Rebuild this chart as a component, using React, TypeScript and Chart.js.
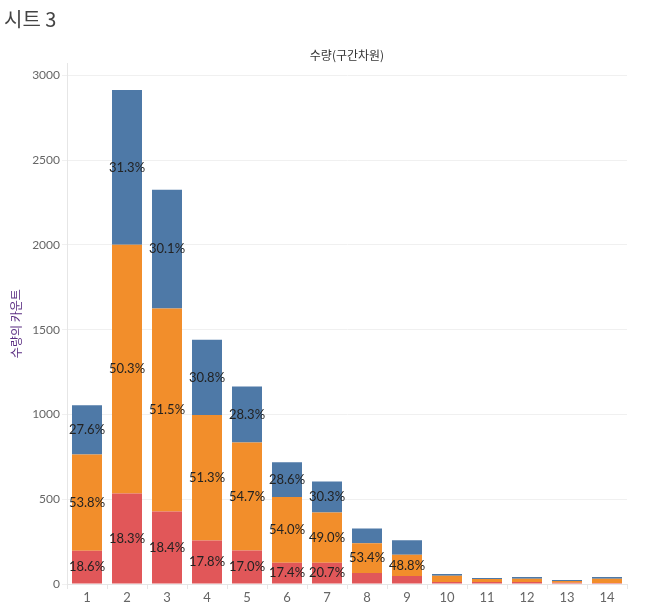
import { useEffect, useRef } from 'react';
import { Chart, registerables } from 'chart.js';

Chart.register(...registerables);

// bins of 수량 (x axis)
const categories = ['1', '2', '3', '4', '5', '6', '7', '8', '9', '10', '11', '12', '13', '14'];
// stacked counts, bottom to top
const redCounts = [196, 534, 428, 257, 198, 125, 125, 65, 47, 12, 12, 12, 8, 6];
const orangeCounts = [567, 1466, 1197, 739, 637, 388, 296, 175, 126, 37, 17, 19, 10, 25];
const blueCounts = [291, 913, 700, 444, 330, 205, 183, 88, 85, 10, 6, 10, 6, 10];
const yTicks = [0, 500, 1000, 1500, 2000, 2500, 3000];

const FONT = 'Lato, "Noto Sans CJK KR", sans-serif';
const KR_FONT = '"Noto Sans CJK KR", sans-serif';

const pctLabels = {
  id: 'pctLabels',
  afterDatasetsDraw(chart: Chart) {
    const ctx = chart.ctx;
    const sets = chart.data.datasets;
    ctx.save();
    ctx.font = `13px ${FONT}`;
    ctx.fillStyle = '#222';
    ctx.textAlign = 'center';
    ctx.textBaseline = 'middle';
    sets.forEach((ds, di) => {
      const meta = chart.getDatasetMeta(di);
      meta.data.forEach((el: any, i) => {
        const total = sets.reduce((s, d) => s + (d.data[i] as number), 0);
        const v = ds.data[i] as number;
        const h = Math.abs(el.base - el.y);
        if (h < 18) return;
        ctx.fillText(((v / total) * 100).toFixed(1) + '%', el.x, (el.y + el.base) / 2);
      });
    });
    ctx.restore();
  },
};

export default function App() {
  const canvasRef = useRef<HTMLCanvasElement>(null);
  const chartRef = useRef<Chart | null>(null);

  useEffect(() => {
    if (!canvasRef.current) return;
    chartRef.current?.destroy();
    chartRef.current = new Chart(canvasRef.current, {
      type: 'bar',
      data: {
        labels: categories,
        datasets: [
          { label: 'red', data: redCounts, backgroundColor: '#e15759' },
          { label: 'orange', data: orangeCounts, backgroundColor: '#f28e2b' },
          { label: 'blue', data: blueCounts, backgroundColor: '#4e79a7' },
        ],
      },
      options: {
        responsive: true,
        maintainAspectRatio: false,
        animation: false,
        datasets: { bar: { categoryPercentage: 1, barPercentage: 0.75 } },
        layout: { padding: { top: 48, right: 20, left: 0, bottom: 0 } },
        plugins: {
          legend: { display: false },
          tooltip: { enabled: false },
          title: {
            display: true,
            text: '수량(구간차원)',
            fullSize: false,
            color: '#333',
            font: { family: KR_FONT, size: 12, weight: 'normal', lineHeight: 1.2 },
            padding: { top: 0, bottom: 1 },
          },
        },
        scales: {
          x: {
            stacked: true,
            grid: {
              offset: true,
              drawOnChartArea: false,
              drawTicks: true,
              tickLength: 5,
              color: '#e6e6e6',
            },
            border: { color: '#e6e6e6' },
            ticks: { color: '#666', font: { family: FONT, size: 13 }, padding: 1 },
            afterFit: (s: any) => { s.height = 26; },
          },
          y: {
            stacked: true,
            min: 0,
            max: 3070,
            afterBuildTicks: (s: any) => {
              s.ticks = yTicks.map((v) => ({ value: v }));
            },
            grid: { color: '#f0f0f0', tickLength: 5 },
            border: { color: '#e6e6e6' },
            ticks: {
              color: '#666',
              font: { family: FONT, size: 12 },
              padding: 2,
              callback: (v: any) => String(v),
            },
            title: {
              display: true,
              text: '수량의 카운트',
              color: '#5a2d82',
              font: { family: KR_FONT, size: 12, lineHeight: 1.2 },
              padding: { top: 9, bottom: 0 },
            },
            afterFit: (s: any) => { s.width = 67; },
          },
        },
      },
      plugins: [pctLabels],
    });
    return () => { chartRef.current?.destroy(); };
  }, []);

  return (
    <div style={{ position: 'fixed', left: 0, top: 0, width: 647, height: 610, background: '#fff' }}>
      <div
        style={{
          position: 'absolute',
          left: 4,
          top: 9,
          fontFamily: KR_FONT,
          fontSize: 20,
          lineHeight: 1,
          color: '#444',
        }}
      >
        시트 3
      </div>
      <canvas ref={canvasRef} />
    </div>
  );
}
